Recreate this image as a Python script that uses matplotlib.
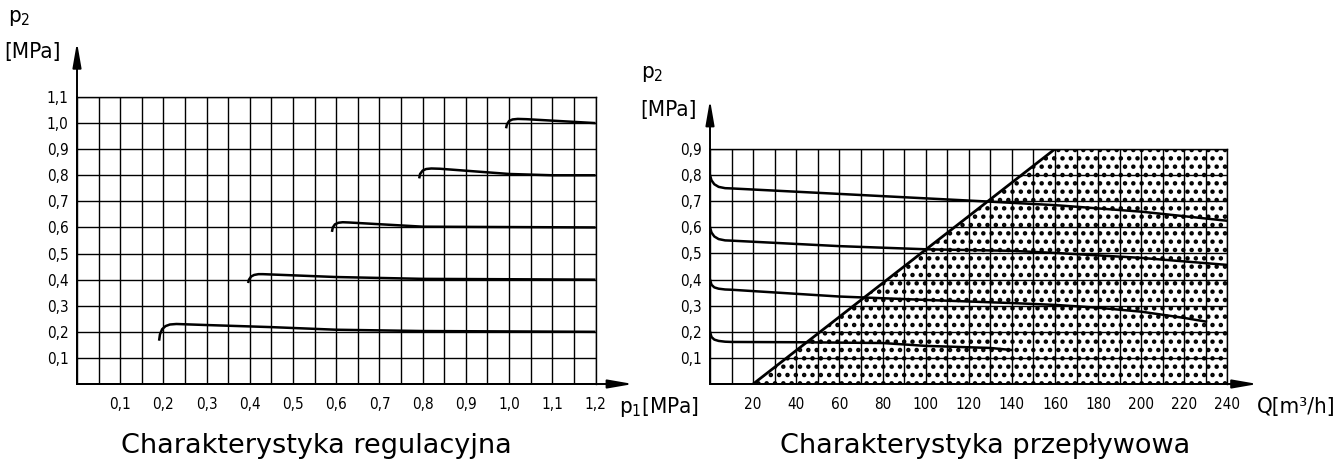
import matplotlib
matplotlib.use("Agg")
import matplotlib.pyplot as plt
import numpy as np

# ---------------- data ----------------
# Left chart: Charakterystyka regulacyjna (p2 vs p1)
left_x_ticks = [0.1, 0.2, 0.3, 0.4, 0.5, 0.6, 0.7, 0.8, 0.9, 1.0, 1.1, 1.2]
left_x_labels = ['0,1', '0,2', '0,3', '0,4', '0,5', '0,6', '0,7', '0,8', '0,9', '1,0', '1,1', '1,2']
left_y_ticks = [0.1, 0.2, 0.3, 0.4, 0.5, 0.6, 0.7, 0.8, 0.9, 1.0, 1.1]
left_y_labels = ['0,1', '0,2', '0,3', '0,4', '0,5', '0,6', '0,7', '0,8', '0,9', '1,0', '1,1']

reg_p1_02 = [0.190, 0.192, 0.197, 0.205, 0.215, 0.230, 0.300, 0.450, 0.600, 0.800, 1.200]
reg_p2_02 = [0.166, 0.190, 0.210, 0.222, 0.228, 0.230, 0.226, 0.218, 0.208, 0.203, 0.200]
reg_p1_04 = [0.396, 0.398, 0.403, 0.410, 0.420, 0.430, 0.600, 0.800, 1.200]
reg_p2_04 = [0.387, 0.400, 0.412, 0.418, 0.421, 0.421, 0.410, 0.403, 0.400]
reg_p1_06 = [0.590, 0.592, 0.597, 0.605, 0.615, 0.630, 0.800, 1.200]
reg_p2_06 = [0.583, 0.600, 0.612, 0.618, 0.620, 0.619, 0.603, 0.600]
reg_p1_08 = [0.792, 0.794, 0.800, 0.808, 0.820, 0.840, 1.000, 1.100, 1.200]
reg_p2_08 = [0.788, 0.805, 0.818, 0.824, 0.826, 0.825, 0.805, 0.800, 0.800]
reg_p1_10 = [0.993, 0.995, 1.000, 1.008, 1.020, 1.040, 1.200]
reg_p2_10 = [0.980, 0.995, 1.008, 1.014, 1.016, 1.015, 1.000]

# Right chart: Charakterystyka przepływowa (p2 vs Q)
right_x_ticks = [20, 40, 60, 80, 100, 120, 140, 160, 180, 200, 220, 240]
right_x_labels = ['20', '40', '60', '80', '100', '120', '140', '160', '180', '200', '220', '240']
right_y_ticks = [0.1, 0.2, 0.3, 0.4, 0.5, 0.6, 0.7, 0.8, 0.9]
right_y_labels = ['0,1', '0,2', '0,3', '0,4', '0,5', '0,6', '0,7', '0,8', '0,9']

flow_q_08 = [0, 0.7, 2, 4, 7, 10, 60, 100, 126, 160, 200, 240]
flow_p_08 = [0.80, 0.78, 0.765, 0.755, 0.750, 0.749, 0.728, 0.711, 0.700, 0.685, 0.660, 0.625]
flow_q_06 = [0, 0.7, 2, 4, 7, 10, 60, 100, 140, 160, 200, 240]
flow_p_06 = [0.60, 0.58, 0.565, 0.555, 0.550, 0.549, 0.528, 0.516, 0.510, 0.502, 0.483, 0.456]
flow_q_04 = [0, 0.7, 2, 4, 7, 10, 60, 100, 140, 160, 180, 200, 220, 230]
flow_p_04 = [0.40, 0.38, 0.370, 0.365, 0.362, 0.361, 0.335, 0.322, 0.310, 0.303, 0.292, 0.277, 0.253, 0.239]
flow_q_02 = [0, 0.7, 2, 4, 7, 10, 40, 80, 100, 130, 140]
flow_p_02 = [0.20, 0.18, 0.170, 0.165, 0.162, 0.161, 0.160, 0.157, 0.146, 0.138, 0.130]

limit_q = [20, 160]
limit_p = [0.0, 0.9]
region_q = [20, 160, 240, 240]
region_p = [0.0, 0.9, 0.9, 0.0]

# ---------------- drawing ----------------
W, H = 1335, 465
fig = plt.figure(figsize=(W / 100, H / 100), dpi=100)
narrow = dict(family='DejaVu Sans', stretch='condensed')
plt.rcParams['hatch.linewidth'] = 2.0

def setup(ax, xmax, ymax, xstep, xt, xl, yt, yl):
    ax.set_xlim(0, xmax)
    ax.set_ylim(0, ymax)
    ax.set_xticks(xt)
    ax.set_xticklabels(xl, fontsize=11, **narrow)
    ax.set_yticks(yt)
    ax.set_yticklabels(yl, fontsize=11, **narrow)
    ax.set_xticks(np.arange(0, xmax + 1e-9, xstep), minor=True)
    ax.tick_params(which='both', length=0)
    ax.tick_params(axis='x', pad=9)
    ax.tick_params(axis='y', pad=6)
    ax.grid(True, which='both', color='black', lw=1.0)
    ax.set_axisbelow(True)
    for s in ax.spines.values():
        s.set_color('black')
        s.set_linewidth(1.0)
    ax.spines['left'].set_linewidth(1.4)
    ax.spines['bottom'].set_linewidth(1.4)

ax1 = fig.add_axes([77 / W, (H - 384) / H, 518.5 / W, 287 / H])
setup(ax1, 1.2, 1.1, 0.05, left_x_ticks, left_x_labels, left_y_ticks, left_y_labels)
for xs, ys in [(reg_p1_02, reg_p2_02), (reg_p1_04, reg_p2_04), (reg_p1_06, reg_p2_06),
               (reg_p1_08, reg_p2_08), (reg_p1_10, reg_p2_10)]:
    ax1.plot(xs, ys, color='black', lw=1.8, solid_capstyle='butt', zorder=5)

ax2 = fig.add_axes([710 / W, (H - 384) / H, 517.5 / W, 235 / H])
setup(ax2, 240, 0.9, 10, right_x_ticks, right_x_labels, right_y_ticks, right_y_labels)
ax2.fill(region_q, region_p, facecolor='none', edgecolor='black', hatch='..', lw=0, zorder=3)
ax2.plot(limit_q, limit_p, color='black', lw=2.0, zorder=5)
for xs, ys in [(flow_q_08, flow_p_08), (flow_q_06, flow_p_06),
               (flow_q_04, flow_p_04), (flow_q_02, flow_p_02)]:
    ax2.plot(xs, ys, color='black', lw=1.8, zorder=5)

arrow = dict(arrowstyle='-|>,head_length=0.75,head_width=0.13', color='black',
             lw=1.4, mutation_scale=20, shrinkA=0, shrinkB=0)
ax1.annotate('', xy=(1.287, 0), xytext=(0, 0), arrowprops=arrow, annotation_clip=False)
ax1.annotate('', xy=(0, 1.31), xytext=(0, 0), arrowprops=arrow, annotation_clip=False)
ax2.annotate('', xy=(254, 0), xytext=(0, 0), arrowprops=arrow, annotation_clip=False)
ax2.annotate('', xy=(0, 1.088), xytext=(0, 0), arrowprops=arrow, annotation_clip=False)

def ftext(x, y, s, **kw):
    fig.text(x / W, 1 - y / H, s, **kw)

lab = dict(fontsize=16, va='center', **narrow)
ftext(8, 18, r'p$_\mathregular{2}$', ha='left', **lab)
ftext(4, 52, '[MPa]', ha='left', **lab)
ftext(619, 407, r'p$_\mathregular{1}$[MPa]', ha='left', **lab)
ftext(641, 74, r'p$_\mathregular{2}$', ha='left', **lab)
ftext(640, 110, '[MPa]', ha='left', **lab)
ftext(1257, 407, 'Q[m³/h]', ha='left', **lab)

title = dict(family='DejaVu Sans', fontsize=19.5, ha='center', va='center')
ftext(316, 446, 'Charakterystyka regulacyjna', **title)
ftext(985, 446, 'Charakterystyka przepływowa', **title)

fig.savefig('out.png', dpi=100)
